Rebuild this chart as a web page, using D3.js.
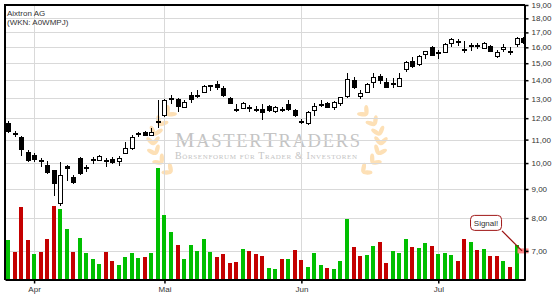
<!DOCTYPE html>
<html>
<head>
<meta charset="utf-8">
<script src="https://cdnjs.cloudflare.com/ajax/libs/d3/7.8.5/d3.min.js"></script>
<style>
  body { margin: 0; background: #fff; }
  svg { display: block; font-family: "Liberation Sans", Arial, sans-serif; }
</style>
</head>
<body>
<div id="chart"></div>
<script>
// daily prices (trading day index 0..79)
var openP = [
  11.78, 11.29, 11.10, 10.46, 10.35, 10.12, 9.94, 9.71, 8.52, 9.90,
  9.46, 10.22, 9.80, 10.14, 10.12, 10.12, 10.18, 10.08, 10.42, 10.65,
  11.25, 11.36, 11.21, 11.80, 12.17, 13.03, 12.96, 12.56, 13.19, 13.14,
  13.37, 13.72, 13.80, 13.56, 13.04, 12.48, 12.51, 12.54, 12.48, 12.47,
  12.62, 12.33, 12.47, 12.70, 12.40, 11.88, 11.76, 12.38, 12.69, 12.77,
  12.55, 12.78, 13.12, 14.04, 13.15, 13.34, 13.91, 14.27, 13.91, 13.84,
  13.67, 14.68, 15.12, 14.97, 15.58, 16.00, 15.66, 15.69, 16.27, 16.39,
  15.91, 16.14, 16.15, 15.98, 16.11, 15.46, 15.88, 15.74, 16.20, 16.64
];
var highP = [
  11.84, 11.41, 11.17, 10.56, 10.43, 10.19, 10.09, 9.73, 10.04, 9.92,
  9.51, 10.24, 9.94, 10.26, 10.34, 10.19, 10.26, 10.31, 10.90, 11.21,
  11.36, 11.38, 11.51, 12.93, 12.97, 13.19, 13.01, 12.92, 13.37, 13.43,
  13.74, 13.74, 13.93, 13.65, 13.08, 12.71, 12.82, 12.67, 12.59, 12.71,
  12.67, 12.60, 12.57, 12.92, 12.47, 11.97, 12.33, 12.76, 12.92, 12.81,
  12.89, 13.08, 14.39, 14.21, 13.43, 13.85, 14.39, 14.37, 14.14, 14.14,
  14.39, 15.12, 15.37, 15.54, 15.75, 16.06, 15.85, 16.26, 16.65, 16.54,
  16.42, 16.31, 16.29, 16.32, 16.16, 15.83, 16.22, 16.04, 16.71, 16.71
];
var lowP = [
  11.36, 11.15, 10.33, 10.09, 10.09, 9.89, 9.62, 8.79, 8.45, 9.33,
  9.24, 9.57, 9.70, 10.01, 10.12, 9.89, 10.00, 9.94, 10.42, 10.60,
  11.16, 11.22, 11.21, 11.59, 12.12, 12.77, 12.33, 12.56, 12.84, 13.10,
  13.33, 13.43, 13.51, 13.14, 12.75, 12.37, 12.51, 12.33, 12.37, 11.95,
  12.37, 12.32, 12.37, 12.42, 12.12, 11.78, 11.73, 12.17, 12.59, 12.57,
  12.48, 12.68, 13.07, 13.58, 13.03, 13.34, 13.61, 13.85, 13.60, 13.61,
  13.67, 14.56, 14.80, 14.90, 15.29, 15.52, 15.33, 15.68, 16.11, 16.16,
  15.69, 15.83, 15.93, 15.98, 15.77, 15.37, 15.79, 15.56, 16.09, 16.27
];
var closeP = [
  11.41, 11.27, 10.58, 10.12, 10.18, 10.10, 9.66, 9.21, 9.54, 9.79,
  9.27, 9.60, 9.83, 10.16, 10.31, 10.10, 10.05, 10.22, 10.65, 11.13,
  11.28, 11.23, 11.36, 11.84, 12.92, 13.05, 12.59, 12.84, 12.96, 13.16,
  13.69, 13.74, 13.61, 13.19, 12.77, 12.47, 12.77, 12.52, 12.47, 12.28,
  12.38, 12.56, 12.45, 12.47, 12.14, 11.86, 12.29, 12.62, 12.71, 12.57,
  12.81, 13.07, 14.08, 13.61, 13.30, 13.81, 14.21, 14.00, 13.61, 13.85,
  14.14, 15.06, 14.86, 15.44, 15.75, 15.54, 15.69, 16.20, 16.56, 16.36,
  15.88, 16.15, 16.12, 16.27, 15.79, 15.73, 16.04, 15.72, 16.60, 16.34
];
// volume in thousand shares (last day has none yet)
var volume = [
  400, 283, 733, 400, 260, 283, 410, 740, 710, 510,
  283, 420, 273, 210, 160, 283, 190, 150, 230, 273,
  220, 230, 273, 1117, 650, 480, 350, 210, 350, 290,
  410, 280, 230, 260, 170, 180, 310, 290, 260, 240,
  120, 110, 210, 210, 300, 200, 130, 270, 150, 120,
  110, 190, 610, 330, 240, 250, 340, 380, 173, 290,
  270, 410, 330, 320, 370, 340, 260, 270, 250, 190,
  410, 380, 300, 310, 240, 240, 190, 130, 350, null
];
var prevClose = 11.2;

var monthTicks = [4, 24, 45, 66];
var monthLabels = ["Apr", "Mai", "Jun", "Jul"];
var priceTicks = [7, 8, 9, 10, 11, 12, 13, 14, 15, 16, 17, 18, 19];

var signal = { day: 79, price: 7.0, text: "Signal!" };

var upColor = "#00bf00";
var downColor = "#c40000";

var svg = d3.select("#chart").append("svg")
  .attr("width", 555)
  .attr("height", 300);

var x = d3.scaleLinear().domain([-0.46, 79.3]).range([5, 525]);
var y = d3.scaleLog().domain([6.22, 19]).range([280, 5]);
var yVol = d3.scaleLinear().domain([0, 2750]).range([280, 5]);

var days = d3.range(openP.length);
function px(i) { return Math.round(x(i)); }
function py(v) { return Math.round(y(v)); }

// watermark (logo behind everything)
var wm = svg.append("g");

function branch(p0, c, p1, n) {
  for (var k = 0; k < n; k++) {
    var t = 0.06 + k * (0.9 / (n - 1));
    var bx = (1 - t) * (1 - t) * p0[0] + 2 * (1 - t) * t * c[0] + t * t * p1[0];
    var by = (1 - t) * (1 - t) * p0[1] + 2 * (1 - t) * t * c[1] + t * t * p1[1];
    var tx = 2 * (1 - t) * (c[0] - p0[0]) + 2 * t * (p1[0] - c[0]);
    var ty = 2 * (1 - t) * (c[1] - p0[1]) + 2 * t * (p1[1] - c[1]);
    var ang = Math.atan2(ty, tx) * 180 / Math.PI;
    [-1, 1].forEach(function (s) {
      wm.append("ellipse")
        .attr("rx", 5.2)
        .attr("ry", 2.2)
        .attr("fill", "#fde0b6")
        .attr("transform", "translate(" + bx + "," + by + ") rotate(" + (ang + s * 40) + ") translate(4.5,0)");
    });
  }
}
branch([176, 176], [134, 146], [170, 112], 7);
branch([358, 176], [400, 146], [364, 112], 7);

var wmText = wm.append("g")
  .attr("fill", "#c4c4c4")
  .attr("font-family", "'Liberation Serif', 'DejaVu Serif', serif");

var t1 = wmText.append("text")
  .attr("x", 175)
  .attr("y", 146.5)
  .attr("textLength", 185)
  .attr("lengthAdjust", "spacing");
t1.append("tspan").attr("font-size", 22).text("M");
t1.append("tspan").attr("font-size", 18.5).text("ASTER");
t1.append("tspan").attr("font-size", 22).text("T");
t1.append("tspan").attr("font-size", 18.5).text("RADERS");

wmText.append("text")
  .attr("x", 175)
  .attr("y", 158.5)
  .attr("font-size", 10)
  .style("font-variant", "small-caps")
  .attr("textLength", 182)
  .attr("lengthAdjust", "spacing")
  .text("Börsenforum für Trader & Investoren");

// gridlines
svg.append("g").selectAll("line")
  .data(priceTicks)
  .enter().append("line")
    .attr("x1", 5).attr("x2", 525)
    .attr("y1", function (d) { return py(d) + 0.5; })
    .attr("y2", function (d) { return py(d) + 0.5; })
    .attr("stroke", "#d9d9d9");

svg.append("g").selectAll("line")
  .data(monthTicks)
  .enter().append("line")
    .attr("x1", function (d) { return px(d) + 0.5; })
    .attr("x2", function (d) { return px(d) + 0.5; })
    .attr("y1", 5).attr("y2", 280)
    .attr("stroke", "#d9d9d9");

// volume bars, coloured by close vs previous close
svg.append("g").selectAll("rect")
  .data(days.filter(function (i) { return volume[i] != null; }))
  .enter().append("rect")
    .attr("x", function (i) { return px(i) - 2; })
    .attr("width", 4)
    .attr("y", function (i) { return Math.round(yVol(volume[i])); })
    .attr("height", function (i) { return 280 - Math.round(yVol(volume[i])); })
    .attr("fill", function (i) {
      var prev = i ? closeP[i - 1] : prevClose;
      return closeP[i] >= prev ? upColor : downColor;
    });

// candles
var candle = svg.append("g").selectAll("g")
  .data(days)
  .enter().append("g");

candle.append("line")
  .attr("x1", function (i) { return px(i) + 0.5; })
  .attr("x2", function (i) { return px(i) + 0.5; })
  .attr("y1", function (i) { return py(highP[i]); })
  .attr("y2", function (i) { return py(lowP[i]) + 1; })
  .attr("stroke", "#000");

candle.append("rect")
  .attr("x", function (i) { return px(i) - 1.5; })
  .attr("width", 4)
  .attr("y", function (i) { return py(Math.max(openP[i], closeP[i])) + 0.5; })
  .attr("height", function (i) {
    return Math.max(1, py(Math.min(openP[i], closeP[i])) - py(Math.max(openP[i], closeP[i])));
  })
  .attr("fill", function (i) { return closeP[i] < openP[i] ? "#000" : "#fff"; })
  .attr("stroke", "#000");

// signal marker
var sx = x(signal.day);
var sy = y(signal.price);
svg.append("rect")
  .attr("x", sx - 5.5).attr("y", sy - 2.5)
  .attr("width", 11).attr("height", 5)
  .attr("fill", "#ff8a8a");
svg.append("line")
  .attr("x1", sx - 21).attr("y1", sy - 20)
  .attr("x2", sx - 1).attr("y2", sy)
  .attr("stroke", "#9b1010")
  .attr("stroke-width", 1.3);
svg.append("rect")
  .attr("x", sx - 52.5).attr("y", sy - 35.5)
  .attr("width", 31).attr("height", 15)
  .attr("rx", 4)
  .attr("fill", "#fff")
  .attr("stroke", "#a01818");
svg.append("text")
  .attr("x", sx - 37).attr("y", sy - 25)
  .attr("text-anchor", "middle")
  .attr("font-size", 8)
  .attr("fill", "#333")
  .text(signal.text);

// frame top / left
svg.append("path")
  .attr("d", "M5,280V5H525")
  .attr("fill", "none")
  .attr("stroke", "#000")
  .attr("stroke-width", 2);

// axes
var yAxis = svg.append("g")
  .attr("transform", "translate(524.5,0)")
  .call(d3.axisRight(y)
    .tickValues(priceTicks)
    .tickFormat(function (d) { return d.toFixed(2).replace(".", ","); })
    .tickSize(4)
    .tickSizeOuter(0)
    .tickPadding(3));

var xAxis = svg.append("g")
  .attr("transform", "translate(0,279.5)")
  .call(d3.axisBottom(x)
    .tickValues(monthTicks)
    .tickFormat(function (d, i) { return monthLabels[i]; })
    .tickSize(4)
    .tickSizeOuter(0)
    .tickPadding(3));

[yAxis, xAxis].forEach(function (ax) {
  ax.select(".domain").attr("stroke-width", 2);
  ax.selectAll(".tick line").attr("stroke-width", 1.5);
  ax.selectAll("text")
    .attr("font-size", 8)
    .attr("font-family", "'Liberation Sans', Arial, sans-serif")
    .attr("fill", "#333");
});

// title
svg.append("text")
  .attr("x", 7).attr("y", 15.5)
  .attr("font-size", 8)
  .attr("fill", "#333")
  .text("Aixtron AG");
svg.append("text")
  .attr("x", 7).attr("y", 24.5)
  .attr("font-size", 8)
  .attr("fill", "#333")
  .text("(WKN: A0WMPJ)");
</script>
</body>
</html>
